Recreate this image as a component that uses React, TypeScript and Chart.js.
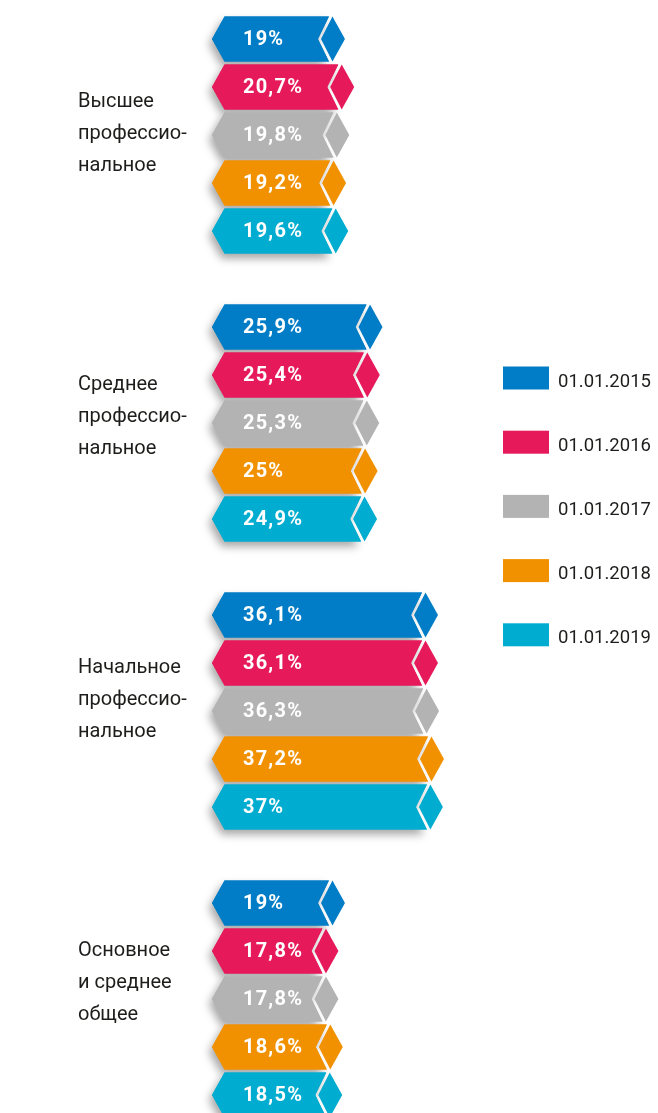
import React, { useEffect, useRef } from "react";
import { Chart, registerables } from "chart.js";

Chart.register(...registerables);

const categories: string[][] = [
  ["Высшее", "профессио-", "нальное"],
  ["Среднее", "профессио-", "нальное"],
  ["Начальное", "профессио-", "нальное"],
  ["Основное", "и среднее", "общее"],
];
const seriesLabels = ["01.01.2015", "01.01.2016", "01.01.2017", "01.01.2018", "01.01.2019"];
const values2015 = [19, 25.9, 36.1, 19];
const values2016 = [20.7, 25.4, 36.1, 17.8];
const values2017 = [19.8, 25.3, 36.3, 17.8];
const values2018 = [19.2, 25, 37.2, 18.6];
const values2019 = [19.6, 24.9, 37, 18.5];
const seriesValues = [values2015, values2016, values2017, values2018, values2019];
const seriesColors = ["#007DC6", "#E6195A", "#B3B3B3", "#F29100", "#00ACCF"];

const CANVAS_TOP = -9;
const FONT = "Roboto, 'Noto Sans', sans-serif";

function fmt(v: number) {
  return String(v).replace(".", ",") + "%";
}

const shapePlugin = {
  id: "chevronBars",
  afterDatasetsDraw(chart: any) {
    const ctx = chart.ctx as CanvasRenderingContext2D;
    const items: any[] = [];
    chart.data.datasets.forEach((ds: any, di: number) => {
      const meta = chart.getDatasetMeta(di);
      meta.data.forEach((el: any, i: number) => {
        const p = el.getProps(["x", "y", "base", "height"], true);
        items.push({ ...p, color: ds.shapeColor, value: ds.data[i] });
      });
    });
    const bodyPath = (it: any) => {
      const h = it.height;
      const top = it.y - h / 2;
      const bot = it.y + h / 2;
      const x0 = it.base;
      const xe = it.x;
      ctx.beginPath();
      ctx.moveTo(x0, it.y);
      ctx.lineTo(x0 + 12.5, top);
      ctx.lineTo(xe - 16, top);
      ctx.lineTo(xe - 27, it.y);
      ctx.lineTo(xe - 16, bot);
      ctx.lineTo(x0 + 12.5, bot);
      ctx.closePath();
    };
    const tipPath = (it: any) => {
      const h = it.height;
      const top = it.y - h / 2;
      const bot = it.y + h / 2;
      const xe = it.x;
      ctx.beginPath();
      ctx.moveTo(xe - 12.5, top);
      ctx.lineTo(xe, it.y);
      ctx.lineTo(xe - 12.5, bot);
      ctx.lineTo(xe - 24, it.y);
      ctx.closePath();
    };
    ctx.save();
    ctx.shadowColor = "rgba(0,0,0,0.35)";
    ctx.shadowBlur = 9;
    ctx.shadowOffsetX = -3;
    ctx.shadowOffsetY = 5;
    items.forEach((it) => {
      ctx.fillStyle = it.color;
      bodyPath(it);
      ctx.fill();
    });
    ctx.restore();
    ctx.save();
    items.forEach((it) => {
      ctx.fillStyle = it.color;
      bodyPath(it);
      ctx.fill();
      tipPath(it);
      ctx.fill();
      ctx.fillStyle = "#ffffff";
      ctx.font = `bold 20px ${FONT}`;
      (ctx as any).letterSpacing = "1.2px";
      ctx.textAlign = "left";
      ctx.textBaseline = "middle";
      ctx.fillText(fmt(it.value), it.base + 31, it.y + 1);
    });
    (ctx as any).letterSpacing = "0px";
    ctx.restore();
  },
  afterDraw(chart: any) {
    const ctx = chart.ctx as CanvasRenderingContext2D;
    const yScale = chart.scales.y;
    ctx.save();
    ctx.fillStyle = "#1d1d1b";
    ctx.font = `20px ${FONT}`;
    ctx.textAlign = "left";
    ctx.textBaseline = "middle";
    categories.forEach((lines, i) => {
      const cy = yScale.getPixelForValue(i) - 1 - 5 * i;
      lines.forEach((ln, k) => {
        ctx.fillText(ln, 78, cy + (k - 1) * 32);
      });
    });
    const legendX = 503;
    const legendY0 = 378 - CANVAS_TOP;
    seriesLabels.forEach((lab, i) => {
      const cy = legendY0 + i * 64.2;
      ctx.fillStyle = seriesColors[i];
      ctx.fillRect(legendX, cy - 11.5, 46, 23);
      ctx.fillStyle = "#1d1d1b";
      ctx.font = `18.5px ${FONT}`;
      ctx.fillText(lab, legendX + 55, cy + 4);
    });
    ctx.restore();
  },
};

export default function App() {
  const ref = useRef<HTMLCanvasElement | null>(null);
  useEffect(() => {
    if (!ref.current) return;
    const chart = new Chart(ref.current, {
      type: "bar",
      data: {
        labels: categories.map((c) => c.join(" ")),
        datasets: seriesLabels.map((lab, i) => ({
          label: lab,
          data: seriesValues[i],
          backgroundColor: "rgba(0,0,0,0)",
          borderWidth: 0,
          shapeColor: seriesColors[i],
          base: -5.44,
          categoryPercentage: 240 / 288,
          barPercentage: 45 / 48,
        })) as any,
      },
      options: {
        indexAxis: "y",
        animation: false,
        responsive: true,
        maintainAspectRatio: false,
        layout: { padding: { left: 212, right: 0, top: 0, bottom: 0 } },
        scales: {
          x: { display: false, min: -5.44, max: 76.54 },
          y: { display: false, type: "category", offset: true },
        },
        plugins: { legend: { display: false }, tooltip: { enabled: false } },
      },
      plugins: [shapePlugin],
    });
    return () => chart.destroy();
  }, []);
  return (
    <div style={{ position: "fixed", left: 0, top: CANVAS_TOP, width: 658, height: 1152 }}>
      <canvas ref={ref} />
    </div>
  );
}
